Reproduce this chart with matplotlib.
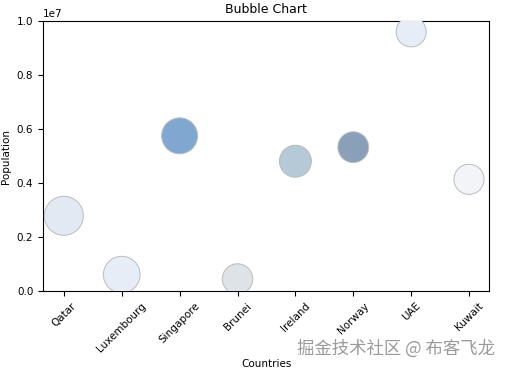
import matplotlib.pyplot as plt

plt.rcParams['font.family'] = ['DejaVu Sans', 'Noto Sans CJK SC']

# data
countries = ['Qatar', 'Luxembourg', 'Singapore', 'Brunei', 'Ireland', 'Norway', 'UAE', 'Kuwait']
population = [2.79e6, 0.61e6, 5.75e6, 0.45e6, 4.81e6, 5.33e6, 9.60e6, 4.14e6]
bubble_size = [790, 700, 670, 480, 530, 490, 470, 470]

# bubble colours
colors = ['#e3e9f3', '#e6edf6', '#7fa7cf', '#dde3e6', '#b5cad6', '#8a9fb8', '#e6edf6', '#f2f4f7']

fig, ax = plt.subplots(figsize=(5.06, 3.69), dpi=100)
fig.subplots_adjust(left=0.085, right=0.967, top=0.943, bottom=0.211)

x = list(range(len(countries)))
ax.scatter(x, population, s=bubble_size, c=colors, edgecolors='#b8bcc0', linewidths=0.7, zorder=3)

ax.set_xticks(x)
ax.set_xticklabels(countries, rotation=45, fontsize=7.5)
ax.set_xlim(-0.36, 7.35)
ax.set_ylim(0, 1.0e7)
ax.tick_params(axis='y', labelsize=7.5)
ax.yaxis.get_offset_text().set_fontsize(7.5)
ax.set_xlabel('Countries', fontsize=7.5)
ax.set_ylabel('Population', fontsize=7.5)
ax.set_title('Bubble Chart', fontsize=9)

# watermark
fig.text(0.978, 0.03, '掘金技术社区 @ 布客飞龙', ha='right', va='bottom', fontsize=12.5,
         color='#9a9a9a', family=['Noto Sans CJK SC', 'DejaVu Sans'])

fig.savefig('out.png', dpi=100)
